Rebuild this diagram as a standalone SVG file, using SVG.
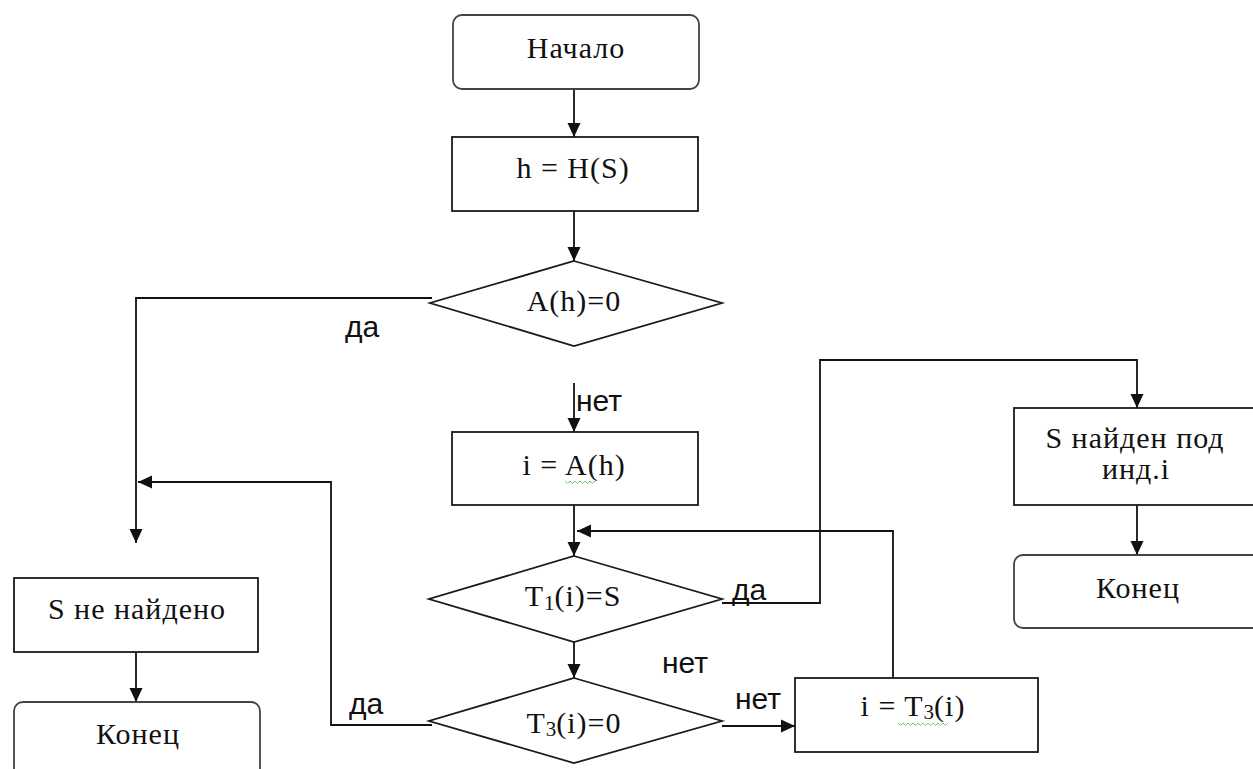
<svg xmlns="http://www.w3.org/2000/svg" width="1253" height="769" viewBox="0 0 1253 769">
  <defs>
    <style>
      .box { fill: #ffffff; stroke: #1a1a1a; stroke-width: 1.8; }
      .term { fill: #ffffff; stroke: #444444; stroke-width: 1.8; }
      .txt { font-family: "Liberation Serif", "Times New Roman", serif; font-size: 30px; letter-spacing: 1px; fill: #111111; text-anchor: middle; }
      .sub { font-size: 21px; letter-spacing: 0; }
      .lbl { font-family: "Liberation Sans", Arial, sans-serif; font-size: 30px; fill: #111111; }
      .conn { fill: none; stroke: #111111; stroke-width: 1.8; }
      .squig { fill: none; stroke: #7cc47c; stroke-width: 1; }
    </style>
    <marker id="arrow" viewBox="0 0 14 14" refX="14" refY="7" markerWidth="14" markerHeight="14" markerUnits="userSpaceOnUse" orient="auto">
      <path d="M0,0.5 L14,7 L0,13.5 Z" fill="#111111"/>
    </marker>
  </defs>

  <rect width="1253" height="769" fill="#ffffff"/>

  <!-- connectors -->
  <g id="connectors">
    <path class="conn" d="M574,89 V137" marker-end="url(#arrow)"/>
    <path class="conn" d="M574,211 V261" marker-end="url(#arrow)"/>
    <path class="conn" d="M432,298 H136 V543" marker-end="url(#arrow)"/>
    <path class="conn" d="M574,383 V432" marker-end="url(#arrow)"/>
    <path class="conn" d="M574,505 V556" marker-end="url(#arrow)"/>
    <path class="conn" d="M722,603 H820 V360 H1137 V408" marker-end="url(#arrow)"/>
    <path class="conn" d="M574,630 V678" marker-end="url(#arrow)"/>
    <path class="conn" d="M722,726 H795" marker-end="url(#arrow)"/>
    <path class="conn" d="M432,725 H331 V482 H138" marker-end="url(#arrow)"/>
    <path class="conn" d="M893,678 V531 H577" marker-end="url(#arrow)"/>
    <path class="conn" d="M1137,505 V555" marker-end="url(#arrow)"/>
    <path class="conn" d="M136,652 V702" marker-end="url(#arrow)"/>
  </g>

  <!-- branch labels -->
  <g id="labels">
    <text class="lbl" x="345" y="337">да</text>
    <text class="lbl" x="576" y="411">нет</text>
    <text class="lbl" x="732" y="600">да</text>
    <text class="lbl" x="662" y="673">нет</text>
    <text class="lbl" x="735" y="709">нет</text>
    <text class="lbl" x="349" y="714">да</text>
  </g>

  <g id="start">
    <rect class="term" x="453" y="15" width="246" height="74" rx="9"/>
    <text class="txt" x="576" y="58">Начало</text>
  </g>

  <g id="hash">
    <rect class="box" x="452" y="137" width="246" height="74"/>
    <text class="txt" x="573" y="178">h = H(S)</text>
  </g>

  <g id="check-empty">
    <polygon class="box" points="574,261 722,303 574,346 430,303"/>
    <text class="txt" x="574" y="311">A(h)=0</text>
  </g>

  <g id="not-found">
    <rect class="box" x="14" y="578" width="244" height="74"/>
    <text class="txt" x="137" y="619">S не найдено</text>
  </g>

  <g id="end-left">
    <rect class="term" x="14" y="702" width="246" height="80" rx="9"/>
    <text class="txt" x="138" y="744">Конец</text>
  </g>

  <g id="index">
    <rect class="box" x="452" y="432" width="246" height="73"/>
    <text class="txt" x="574" y="475">i = A(h)</text>
    <path class="squig" d="M565,481 l2.5,2.5 l2.5,-2.5 l2.5,2.5 l2.5,-2.5 l2.5,2.5 l2.5,-2.5 l2.5,2.5 l2.5,-2.5 l2.5,2.5 l2.5,-2.5 l2.5,2.5 l2.5,-2.5"/>
  </g>

  <g id="check-match">
    <polygon class="box" points="574,556 722,599 574,642 429,599"/>
    <text class="txt" x="573" y="606">T<tspan class="sub" dy="4">1</tspan><tspan dy="-4">(i)=S</tspan></text>
  </g>

  <g id="check-next">
    <polygon class="box" points="574,678 722,721 574,763 429,721"/>
    <text class="txt" x="574" y="733">T<tspan class="sub" dy="3">3</tspan><tspan dy="-3">(i)=0</tspan></text>
  </g>

  <g id="step">
    <rect class="box" x="795" y="678" width="243" height="74"/>
    <text class="txt" x="913" y="716">i = T<tspan class="sub" dy="3">3</tspan><tspan dy="-3">(i)</tspan></text>
    <path class="squig" d="M898,723 l2.5,2.5 l2.5,-2.5 l2.5,2.5 l2.5,-2.5 l2.5,2.5 l2.5,-2.5 l2.5,2.5 l2.5,-2.5 l2.5,2.5 l2.5,-2.5 l2.5,2.5 l2.5,-2.5 l2.5,2.5 l2.5,-2.5 l2.5,2.5 l2.5,-2.5 l2.5,2.5 l2.5,-2.5 l2.5,2.5 l2.5,-2.5"/>
  </g>

  <g id="found">
    <rect class="box" x="1014" y="408" width="250" height="97"/>
    <text class="txt" x="1135" y="448">S найден под</text>
    <text class="txt" x="1136" y="479">инд.i</text>
  </g>

  <g id="end-right">
    <rect class="term" x="1014" y="555" width="250" height="73" rx="9"/>
    <text class="txt" x="1138" y="598">Конец</text>
  </g>
</svg>
